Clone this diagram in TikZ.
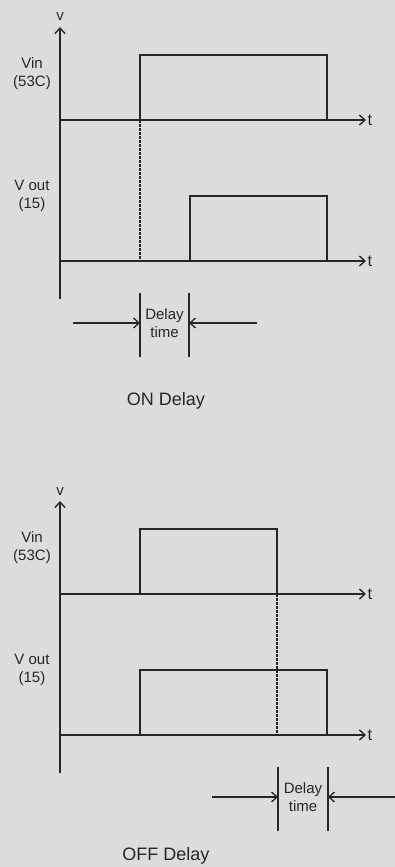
\documentclass[tikz,border=0pt]{standalone}
\usepackage{fontspec}
\setmainfont{Liberation Sans}
\usetikzlibrary{positioning, arrows.meta, calc}
\definecolor{paper}{HTML}{DCDCDE}
\definecolor{ink}{HTML}{262626}
\tikzset{
  axis/.style   = {draw=ink, line width=1.6pt,
                   -{Straight Barb[length=5.5pt,width=10pt,line width=1.4pt]}},
  wave/.style   = {draw=ink, line width=1.4pt},
  guide/.style  = {draw=ink, line width=1.3pt, dash pattern=on 2.5pt off 1.5pt},
  tick/.style   = {draw=ink, line width=1.6pt},
  ar/.style     = {draw=ink, line width=1.4pt,
                   -{Straight Barb[length=5.5pt,width=10pt,line width=1.3pt]}},
  lbl/.style    = {text=ink, font=\fontsize{15}{18}\selectfont, align=center, inner sep=1pt},
  tlbl/.style   = {text=ink, font=\fontsize{16.5}{18}\selectfont, inner sep=1.5pt},
  ttl/.style    = {text=ink, font=\fontsize{18}{21}\selectfont, inner sep=0pt},
}

\begin{document}
\begin{tikzpicture}[x=1pt, y=-1pt]

  \fill[paper] (0,0) rectangle (395,867);
  \useasboundingbox (0,0) rectangle (395,867);

  % ON delay
  \begin{scope}
    \coordinate (on-bot) at (60,299);
    \coordinate (on-vtip) at (60,27);
    \coordinate (on-in0) at (60,120);
    \coordinate (on-in1) at (366,120);
    \coordinate (on-out0) at (60,261);
    \coordinate (on-out1) at (366,261);
    \coordinate (on-inrise) at (140,120);
    \coordinate (on-intop) at (327,55);
    \coordinate (on-outrise) at (190,261);
    \coordinate (on-outtop) at (327,196);
    \coordinate (on-dash) at (140,261);

    \draw[axis] (on-bot) -- (on-vtip);
    \node[lbl, anchor=base] (on-v) at (60,21) {v};
    \draw[axis] (on-in0) -- (on-in1);
    \draw[axis] (on-out0) -- (on-out1);
    \node[tlbl, anchor=west] (on-t1) at (on-in1) {t};
    \node[tlbl, anchor=west] (on-t2) at (on-out1) {t};

    \draw[wave] (on-inrise) |- (on-intop) -- (on-intop |- on-in0);
    \draw[wave] (on-outrise) |- (on-outtop) -- (on-outtop |- on-out0);
    \draw[guide] (on-inrise) -- (on-dash);

    \node[lbl] (on-vin) at (32,74) {Vin\\(53C)};
    \node[lbl] (on-vout) at (32,196) {V out\\(15)};

    \coordinate (on-da) at (140,293);
    \coordinate (on-db) at (189,293);
    \draw[tick] (on-da) -- ++(0,64);
    \draw[tick] (on-db) -- ++(0,64);
    \coordinate (on-la) at (73,323);
    \coordinate (on-ra) at (257,323);
    \draw[ar] (on-la) -- (on-la -| on-da);
    \draw[ar] (on-ra) -- (on-ra -| on-db);
    \node[lbl] (on-delay) at (164.5,323) {Delay\\time};

    \node[ttl] (on-title) at (166,401) {ON Delay};
  \end{scope}

  % OFF delay
  \begin{scope}[yshift=-474pt]
    \coordinate (off-bot) at (60,299);
    \coordinate (off-vtip) at (60,27);
    \coordinate (off-in0) at (60,120);
    \coordinate (off-in1) at (366,120);
    \coordinate (off-out0) at (60,261);
    \coordinate (off-out1) at (366,261);
    \coordinate (off-inrise) at (140,120);
    \coordinate (off-intop) at (277,55);
    \coordinate (off-outrise) at (140,261);
    \coordinate (off-outtop) at (327,196);
    \coordinate (off-dash) at (277,261);

    \draw[axis] (off-bot) -- (off-vtip);
    \node[lbl, anchor=base] (off-v) at (60,21) {v};
    \draw[axis] (off-in0) -- (off-in1);
    \draw[axis] (off-out0) -- (off-out1);
    \node[tlbl, anchor=west] (off-t1) at (off-in1) {t};
    \node[tlbl, anchor=west] (off-t2) at (off-out1) {t};

    \draw[wave] (off-inrise) |- (off-intop) -- (off-intop |- off-in0);
    \draw[wave] (off-outrise) |- (off-outtop) -- (off-outtop |- off-out0);
    \draw[guide] (off-intop |- off-in0) -- (off-dash);

    \node[lbl] (off-vin) at (32,74) {Vin\\(53C)};
    \node[lbl] (off-vout) at (32,196) {V out\\(15)};

    \coordinate (off-da) at (278,293);
    \coordinate (off-db) at (328,293);
    \draw[tick] (off-da) -- ++(0,64);
    \draw[tick] (off-db) -- ++(0,64);
    \coordinate (off-la) at (212,323);
    \coordinate (off-ra) at (398,323);
    \draw[ar] (off-la) -- (off-la -| off-da);
    \draw[ar] (off-ra) -- (off-ra -| off-db);
    \node[lbl] (off-delay) at (303,323) {Delay\\time};
  \end{scope}

  \node[ttl] (off-title) at (166,856) {OFF Delay};

\end{tikzpicture}
\end{document}
